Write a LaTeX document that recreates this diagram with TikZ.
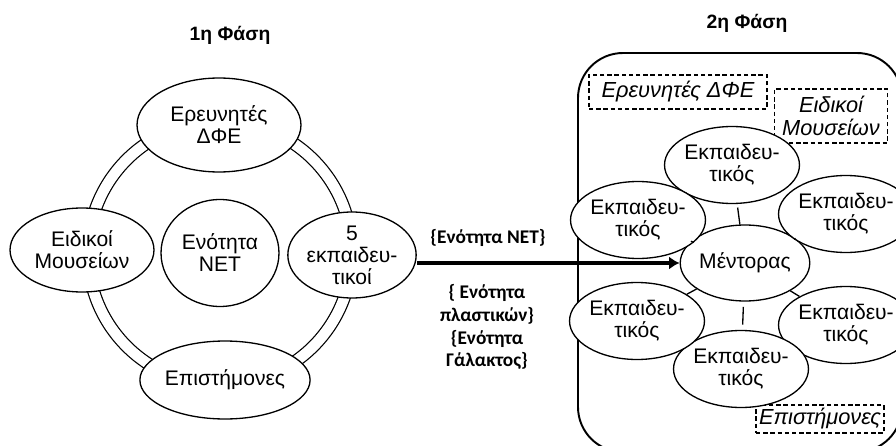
\documentclass[tikz,border=0pt]{standalone}
\usepackage{fontspec}
\setmainfont{Liberation Sans}
\newfontfamily\calibri{Carlito}
\usetikzlibrary{shapes.geometric, arrows.meta}

\begin{document}
\begin{tikzpicture}[x = 0.02cm, y = -0.02cm,
	every node/.style = {font = \fontsize{12}{12.5}\selectfont, align = center},
	member/.style = {ellipse, draw, fill = white, line width = 0.75pt, inner sep = 0pt},
	teacher/.style = {member, minimum width = 2.14cm, minimum height = 1.54cm},
	guest/.style = {draw, line width = 1pt, dash pattern = on 2.5pt off 1.6pt, inner sep = 0pt, font = \fontsize{12.4}{13}\selectfont\itshape},
	phase/.style = {font = \fontsize{11}{13}\selectfont\bfseries},
	unit/.style = {font = \calibri\fontsize{11}{13}\selectfont\bfseries},
	spoke/.style = {line width = 0.75pt}
]

	% Frame

	\useasboundingbox (0, 0) rectangle (896, 446);

	% First phase

	\node [phase] (title1) at (230, 35) {1η Φάση};

	\node [member, minimum width = 2.36cm, minimum height = 2.14cm] (net) at (220, 253) {Ενότητα\\NET};
	\draw [line width = 0.7pt, double distance = 6pt] (net) circle [radius = 2.64cm];

	\node [member, minimum width = 3.28cm, minimum height = 1.88cm] (researchers) at (219, 125) {Ερευνητές\\ΔΦΕ};
	\node [member, minimum width = 2.88cm, minimum height = 1.68cm] (museum) at (82, 250) {Ειδικοί\\Μουσείων};
	\node [member, minimum width = 2.52cm, minimum height = 1.72cm] (five) at (352, 255) {5\\εκπαιδευ-\\τικοί};
	\node [member, minimum width = 3.32cm, minimum height = 1.56cm] (scientists) at (225, 380) {Επιστήμονες};

	% Second phase

	\node [phase] (title2) at (747, 23) {2η Φάση};

	\begin{scope}
		\clip (0, 0) rectangle (896, 446);
		\draw [line width = 1.1pt, rounded corners = 0.9cm] (578, 53) rectangle (902, 452);
	\end{scope}

	\node [guest, minimum width = 3.56cm, minimum height = 0.68cm] (guestres) at (678, 92) {Ερευνητές ΔΦΕ};
	\node [guest, minimum width = 2.26cm, minimum height = 1.08cm] (guestmus) at (831, 116) {Ειδικοί\\Μουσείων};
	\node [guest, minimum width = 2.56cm, minimum height = 0.56cm] (guestsci) at (820, 419) {Επιστήμονες};

	\node [member, minimum width = 2.2cm, minimum height = 1.52cm] (mentor) at (745, 263) {Μέντορας};

	\node [teacher] (t1) at (732, 165) {Εκπαιδευ-\\τικός};
	\node [teacher] (t2) at (846, 214) {Εκπαιδευ-\\τικός};
	\node [teacher] (t3) at (846, 325) {Εκπαιδευ-\\τικός};
	\node [teacher] (t4) at (741, 369) {Εκπαιδευ-\\τικός};
	\node [teacher] (t5) at (637, 321) {Εκπαιδευ-\\τικός};
	\node [teacher] (t6) at (638, 220) {Εκπαιδευ-\\τικός};

	\draw [spoke, shorten > = 2pt] (mentor) -- (t1);
	\draw [spoke] (mentor) -- (t2);
	\draw [spoke] (mentor) -- (t3);
	\draw [spoke, shorten < = 3pt, shorten > = 3pt] (mentor) -- (t4);
	\draw [spoke] (mentor) -- (t5);
	\draw [spoke] (mentor) -- (t6);

	% Transfer

	\draw [line width = 2.3pt, -{Latex[length = 6pt, width = 7.5pt]}] (mentor.west -| five.east) -- (mentor.west);

	\node [unit] (unitnet) at (488, 238) {\{Ενότητα NET\}};
	\node [unit] (unitrest) at (487, 327) {\{ Ενότητα\\πλαστικών\}\\\{Ενότητα\\Γάλακτος\}};

\end{tikzpicture}
\end{document}
